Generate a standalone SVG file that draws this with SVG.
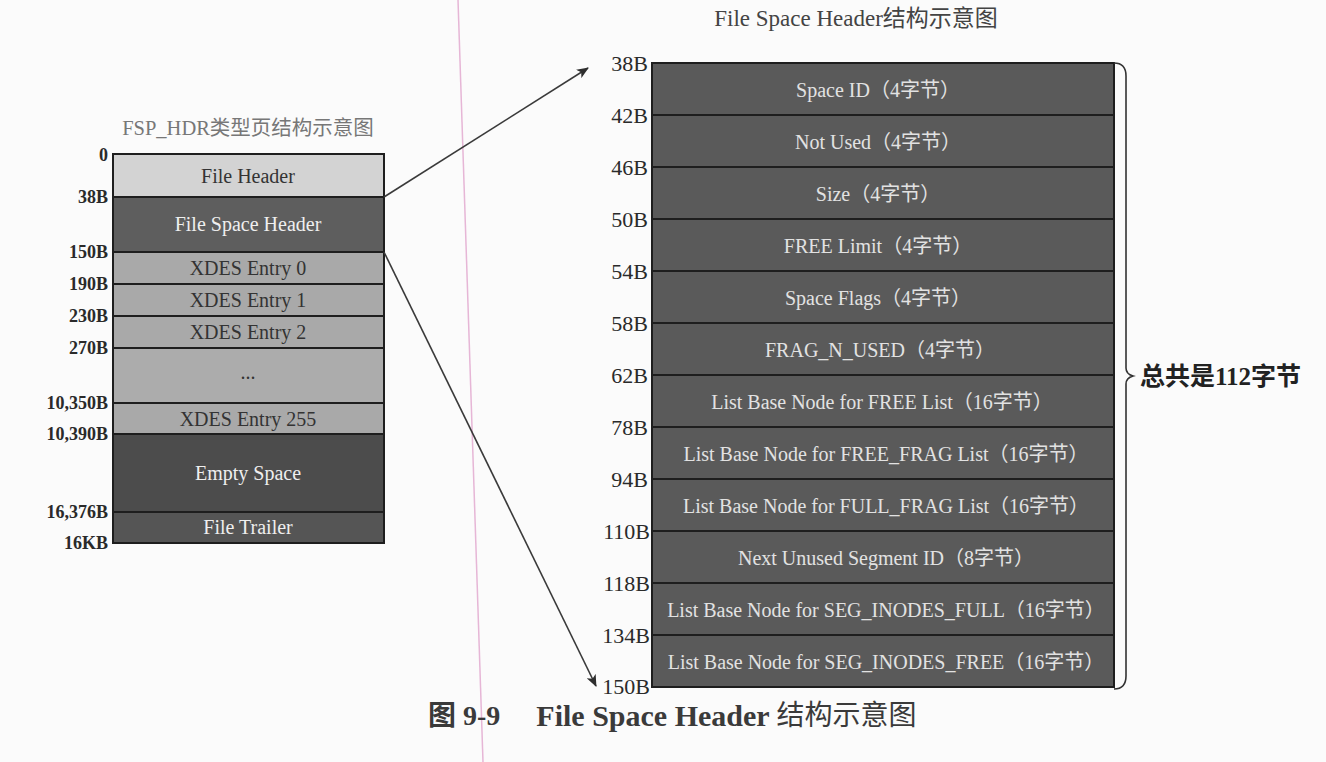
<svg xmlns="http://www.w3.org/2000/svg" width="1326" height="762" viewBox="0 0 1326 762">
<style>
.t{font-family:"Liberation Serif","Noto Sans CJK SC",serif}
.lab{font-family:"Liberation Serif","Noto Sans CJK SC",serif;font-weight:bold;font-size:18px;fill:#2a2a2a;text-anchor:end;dominant-baseline:central}
.rlab{font-family:"Liberation Serif","Noto Sans CJK SC",serif;font-size:22px;fill:#2a2a2a;text-anchor:end;dominant-baseline:central}
.cell{stroke:#1e1e1e;stroke-width:2}
.lt{font-family:"Liberation Serif","Noto Sans CJK SC",serif;font-size:20px;text-anchor:middle;dominant-baseline:central}
.rt{font-family:"Liberation Serif","Noto Sans CJK SC",serif;font-size:20px;fill:#e2e2e2;text-anchor:middle;dominant-baseline:central}
.dark{fill:#efefef}
.lite{fill:#333}
.conn{stroke:#3a3a3a;stroke-width:1.6;fill:none}
</style>
<defs>
<marker id="ah" viewBox="0 0 12 10" refX="11" refY="5" markerWidth="12" markerHeight="10" markerUnits="userSpaceOnUse" orient="auto">
<path d="M0,0 L12,5 L0,10 L3,5 Z" fill="#2e2e2e"/>
</marker>
</defs>
<rect width="1326" height="762" fill="#fbfbfb"/>
<line x1="458" y1="0" x2="483" y2="762" stroke="#e6b6d6" stroke-width="1.5"/>

<text class="t" x="248" y="128" font-size="20.5" fill="#777" text-anchor="middle" dominant-baseline="central">FSP_HDR类型页结构示意图</text>
<text class="t" x="856" y="18" font-size="23" fill="#444" text-anchor="middle" dominant-baseline="central">File Space Header结构示意图</text>

<g id="left-page">
<g id="file-header"><rect class="cell" x="113" y="154" width="271" height="43" fill="#d3d3d3"/><text class="lt lite" x="248" y="176">File Header</text></g>
<g id="fsh"><rect class="cell" x="113" y="197" width="271" height="55" fill="#5e5e5e"/><text class="lt dark" x="248" y="224">File Space Header</text></g>
<g id="xdes0"><rect class="cell" x="113" y="252" width="271" height="32" fill="#a9a9a9"/><text class="lt lite" x="248" y="268">XDES Entry 0</text></g>
<g id="xdes1"><rect class="cell" x="113" y="284" width="271" height="32" fill="#a9a9a9"/><text class="lt lite" x="248" y="300">XDES Entry 1</text></g>
<g id="xdes2"><rect class="cell" x="113" y="316" width="271" height="32" fill="#a9a9a9"/><text class="lt lite" x="248" y="332">XDES Entry 2</text></g>
<g id="xdes-dots"><rect class="cell" x="113" y="348" width="271" height="55" fill="#acacac"/><text class="lt lite" x="248" y="372" font-size="14">...</text></g>
<g id="xdes255"><rect class="cell" x="113" y="403" width="271" height="31" fill="#a9a9a9"/><text class="lt lite" x="248" y="419">XDES Entry 255</text></g>
<g id="empty"><rect class="cell" x="113" y="434" width="271" height="78" fill="#4c4c4c"/><text class="lt dark" x="248" y="473">Empty Space</text></g>
<g id="trailer"><rect class="cell" x="113" y="512" width="271" height="31" fill="#555"/><text class="lt dark" x="248" y="527">File Trailer</text></g>
</g>

<g id="left-labels">
<text class="lab" x="108" y="155">0</text>
<text class="lab" x="108" y="197">38B</text>
<text class="lab" x="108" y="252">150B</text>
<text class="lab" x="108" y="284">190B</text>
<text class="lab" x="108" y="316">230B</text>
<text class="lab" x="108" y="348">270B</text>
<text class="lab" x="108" y="403">10,350B</text>
<text class="lab" x="108" y="434">10,390B</text>
<text class="lab" x="108" y="512">16,376B</text>
<text class="lab" x="108" y="543">16KB</text>
</g>

<g id="right-struct">
<g id="r1"><rect class="cell" x="652" y="63" width="462" height="52" fill="#5a5a5a"/><text class="rt" x="878" y="90">Space ID（4字节）</text></g>
<g id="r2"><rect class="cell" x="652" y="115" width="462" height="52" fill="#5a5a5a"/><text class="rt" x="878" y="142">Not Used（4字节）</text></g>
<g id="r3"><rect class="cell" x="652" y="167" width="462" height="52" fill="#5a5a5a"/><text class="rt" x="878" y="194">Size（4字节）</text></g>
<g id="r4"><rect class="cell" x="652" y="219" width="462" height="52" fill="#5a5a5a"/><text class="rt" x="878" y="246">FREE Limit（4字节）</text></g>
<g id="r5"><rect class="cell" x="652" y="271" width="462" height="52" fill="#5a5a5a"/><text class="rt" x="878" y="298">Space Flags（4字节）</text></g>
<g id="r6"><rect class="cell" x="652" y="323" width="462" height="52" fill="#5a5a5a"/><text class="rt" x="880" y="350">FRAG_N_USED（4字节）</text></g>
<g id="r7"><rect class="cell" x="652" y="375" width="462" height="52" fill="#5a5a5a"/><text class="rt" x="882" y="402">List Base Node for FREE List（16字节）</text></g>
<g id="r8"><rect class="cell" x="652" y="427" width="462" height="52" fill="#5a5a5a"/><text class="rt" x="886" y="454">List Base Node for FREE_FRAG List（16字节）</text></g>
<g id="r9"><rect class="cell" x="652" y="479" width="462" height="52" fill="#5a5a5a"/><text class="rt" x="886" y="506">List Base Node for FULL_FRAG List（16字节）</text></g>
<g id="r10"><rect class="cell" x="652" y="531" width="462" height="52" fill="#5a5a5a"/><text class="rt" x="886" y="558">Next Unused Segment ID（8字节）</text></g>
<g id="r11"><rect class="cell" x="652" y="583" width="462" height="52" fill="#5a5a5a"/><text class="rt" x="886" y="610">List Base Node for SEG_INODES_FULL（16字节）</text></g>
<g id="r12"><rect class="cell" x="652" y="635" width="462" height="52" fill="#5a5a5a"/><text class="rt" x="886" y="662">List Base Node for SEG_INODES_FREE（16字节）</text></g>
</g>

<g id="right-labels">
<text class="rlab" x="648" y="63">38B</text>
<text class="rlab" x="648" y="115">42B</text>
<text class="rlab" x="648" y="167">46B</text>
<text class="rlab" x="648" y="219">50B</text>
<text class="rlab" x="648" y="271">54B</text>
<text class="rlab" x="648" y="323">58B</text>
<text class="rlab" x="648" y="375">62B</text>
<text class="rlab" x="648" y="427">78B</text>
<text class="rlab" x="648" y="479">94B</text>
<text class="rlab" x="650" y="531">110B</text>
<text class="rlab" x="650" y="583">118B</text>
<text class="rlab" x="650" y="635">134B</text>
<text class="rlab" x="650" y="686">150B</text>
</g>

<g id="brace">
<path d="M1114,63 Q1126,63 1126,76 L1126,368 Q1126,374 1133,376 Q1126,378 1126,384 L1126,676 Q1126,689 1114,689" fill="none" stroke="#333" stroke-width="1.6"/>
<text class="t" x="1140" y="376" font-size="25" font-weight="bold" fill="#222" dominant-baseline="central">总共是112字节</text>
</g>

<g id="connectors">
<line class="conn" x1="384" y1="197" x2="588" y2="68" marker-end="url(#ah)"/>
<line class="conn" x1="384" y1="252" x2="596" y2="686" marker-end="url(#ah)"/>
</g>

<text class="t" x="428" y="715" font-size="28" fill="#3a3a3a" dominant-baseline="central"><tspan font-weight="bold">图 9-9</tspan><tspan dx="36" font-weight="bold" font-size="30">File Space Header </tspan><tspan>结构示意图</tspan></text>
</svg>
